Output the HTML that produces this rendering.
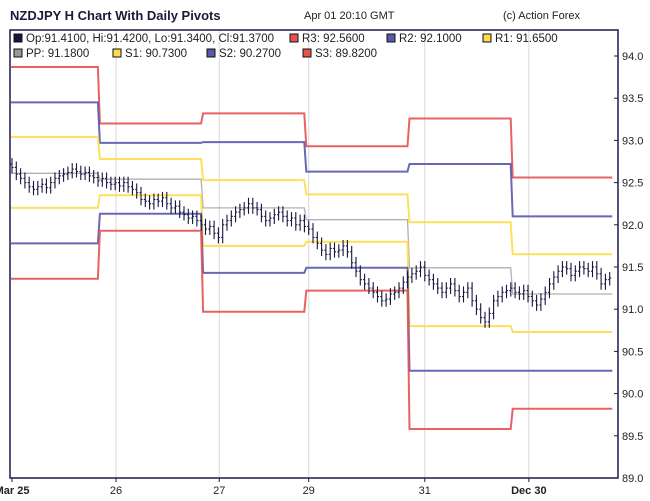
<!DOCTYPE html>
<html><head><meta charset="utf-8"><style>
body{margin:0;background:#fff;font-family:"Liberation Sans",sans-serif;}
svg{display:block}
</style></head><body>
<svg id="c" width="650" height="501" xmlns="http://www.w3.org/2000/svg">
<text x="10" y="20" font-size="13" font-weight="bold" fill="#1a1a3a">NZDJPY H Chart With Daily Pivots</text>
<text x="304" y="19" font-size="11" fill="#222">Apr 01 20:10 GMT</text>
<text x="503" y="19" font-size="11" fill="#222">(c) Action Forex</text>
<g id="grid"></g>
<g id="pivots"></g>
<g id="bars"></g>
<rect x="10" y="30" width="608" height="448" fill="none" stroke="#1a1a4a" stroke-width="1.5"/>
<g id="axes"></g>
<g id="legend" font-size="11" fill="#222"></g>
</svg>
<script>
const yTicks=[89.0,89.5,90.0,90.5,91.0,91.5,92.0,92.5,93.0,93.5,94.0];
const xLabels=["Mar 25","26","27","29","31","Dec 30"];
const xLabelHours=[0,24.2,48.2,69,96,120.2];
const levelNames=["R3","R2","R1","PP","S1","S2","S3"];
const R3=[93.87,93.20,93.32,92.93,93.26,92.56];
const R2=[93.45,92.97,92.98,92.63,92.72,92.10];
const R1=[93.04,92.78,92.53,92.36,92.03,91.65];
const PP=[92.61,92.54,92.20,92.06,91.49,91.18];
const S1=[92.20,92.35,91.75,91.80,90.80,90.73];
const S2=[91.78,92.13,91.43,91.49,90.27,90.27];
const S3=[91.36,91.93,90.97,91.22,89.58,89.82];
const closes=[92.68,92.6,92.55,92.5,92.45,92.42,92.45,92.48,92.44,92.5,
92.55,92.58,92.6,92.62,92.66,92.63,92.6,92.62,92.58,92.56,
92.52,92.55,92.5,92.48,92.5,92.46,92.5,92.45,92.42,92.38,
92.3,92.28,92.25,92.3,92.28,92.32,92.25,92.2,92.22,92.15,
92.12,92.08,92.1,92.05,92.0,91.95,91.98,91.9,91.85,92.0,
92.05,92.1,92.15,92.18,92.2,92.25,92.2,92.18,92.1,92.05,
92.08,92.12,92.15,92.1,92.05,92.08,92.0,92.05,91.98,91.95,
91.85,91.78,91.7,91.65,91.72,91.68,91.7,91.75,91.68,91.55,
91.45,91.35,91.3,91.25,91.2,91.15,91.1,91.12,91.18,91.2,
91.25,91.32,91.38,91.42,91.45,91.5,91.4,91.35,91.3,91.25,
91.2,91.25,91.3,91.22,91.15,91.2,91.25,91.1,91.0,90.9,
90.85,90.95,91.1,91.15,91.2,91.22,91.25,91.2,91.18,91.22,
91.15,91.1,91.05,91.12,91.2,91.3,91.38,91.45,91.5,91.48,
91.4,91.45,91.5,91.48,91.45,91.5,91.42,91.3,91.35,91.37];
const firstOpen=92.72;

const NS="http://www.w3.org/2000/svg";
const L=10,R=618,T=30,B=478;
function y(v){return 56+(94-v)*84.4;}
function x(h){return 12+4.3*h;}
function mk(tag,attrs,parent){const e=document.createElementNS(NS,tag);for(const k in attrs)e.setAttribute(k,attrs[k]);parent.appendChild(e);return e;}
const grid=document.getElementById('grid'),axes=document.getElementById('axes');
xLabels.forEach((lab,i)=>{
  const xx=x(xLabelHours[i]);
  if(i>0){const g=mk('line',{x1:xx,x2:xx,y1:T,y2:B,stroke:'#d8d8d8','stroke-width':1},grid);
  
  }
  const tk=mk('line',{x1:xx,x2:xx,y1:B,y2:B+4,stroke:'#1a1a4a','stroke-width':1},axes);
  
  
  const t=mk('text',{x:xx,y:494,'font-size':11,'text-anchor':'middle',fill:'#222','font-weight':(lab.length>3?'bold':'normal')},axes);
  t.textContent=lab;
  
  
});
yTicks.forEach(v=>{
  const yy=y(v);
  const tk=mk('line',{x1:R-4,x2:R,y1:yy,y2:yy,stroke:'#1a1a4a','stroke-width':1},axes);
  
  
  const t=mk('text',{x:622,y:yy+4,'font-size':11,fill:'#222'},axes);
  t.textContent=v.toFixed(1);
  
  
});
const pv=document.getElementById('pivots');
const series=[[R3,'#e45252',2],[R2,'#5858ad',2],[R1,'#ffdb4d',2],[PP,'#a8a8a8',1.3],[S1,'#ffdb4d',2],[S2,'#5858ad',2],[S3,'#e45252',2]];
series.forEach((s,si)=>{
  const arr=s[0];let d='';
  arr.forEach((v,k)=>{
    const x0=k===0?L+1:x(24*k-3.8)+1, x1=x(24*(k+1)-3.8)-1;
    const x1c=Math.min(x1,x(139.6));
    d+=(k===0?'M':'L')+x0.toFixed(1)+','+y(v).toFixed(1)+' L'+x1c.toFixed(1)+','+y(v).toFixed(1)+' ';
  });
  const p=mk('path',{d:d,fill:'none',stroke:s[1],'stroke-width':s[2],'stroke-opacity':0.9},pv);
  
  
});
const bg=document.getElementById('bars');
closes.forEach((c,i)=>{
  const o=i===0?firstOpen:closes[i-1];
  const hi=Math.max(o,c)+0.07, lo=Math.min(o,c)-0.07;
  const xx=x(i);
  const g=mk('g',{stroke:'#15153d','stroke-width':1.1},bg);
  
  
  mk('line',{x1:xx,x2:xx,y1:y(hi),y2:y(lo)},g);
  mk('line',{x1:xx-1.5,x2:xx,y1:y(o),y2:y(o)},g);
  mk('line',{x1:xx,x2:xx+1.5,y1:y(c),y2:y(c)},g);
});
const lg=document.getElementById('legend');
const items=[["#15153d","Op:91.4100, Hi:91.4200, Lo:91.3400, Cl:91.3700",14,42],["#e45252","R3: "+R3[5].toFixed(4),290,42],["#5858ad","R2: "+R2[5].toFixed(4),387,42],["#ffdb4d","R1: "+R1[5].toFixed(4),483,42],
["#999","PP: "+PP[5].toFixed(4),14,57],["#ffdb4d","S1: "+S1[5].toFixed(4),113,57],["#5858ad","S2: "+S2[5].toFixed(4),207,57],["#e45252","S3: "+S3[5].toFixed(4),303,57]];
items.forEach(it=>{
  const r=mk('rect',{x:it[2],y:it[3]-8,width:8,height:8,fill:it[0],stroke:'#111','stroke-width':1},lg);
  
  
  const t=mk('text',{x:it[2]+12,y:it[3],'font-size':11.5},lg);
  t.textContent=it[1];
  
  
});
</script>
</body></html>
